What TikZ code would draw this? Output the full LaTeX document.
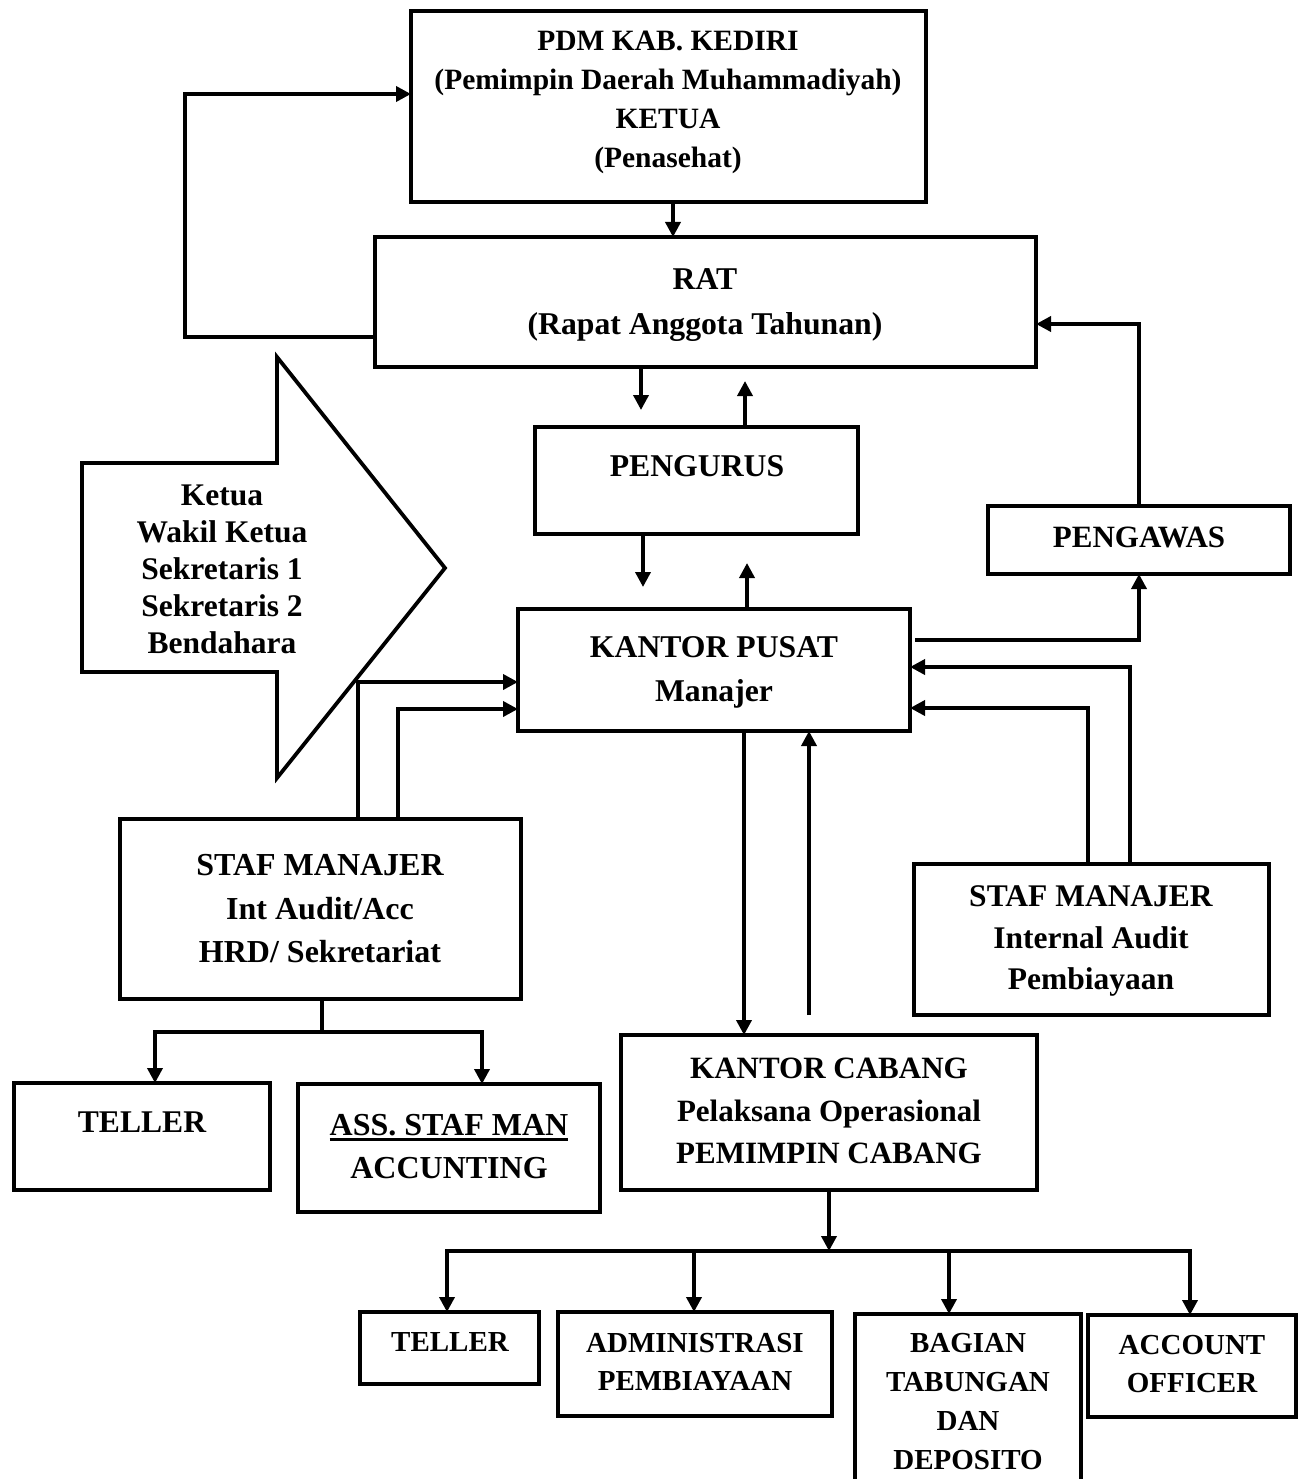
\documentclass[tikz,border=0pt]{standalone}
\usepackage{fontspec}
\setmainfont{Liberation Serif}
\usetikzlibrary{arrows.meta}
\newcommand\mybox[5]{\node[bx,minimum width=#4pt,minimum height=#5pt] (#1) at (#2,#3) {};}
\newcommand\myul[1]{\leavevmode\vtop{\hbox{#1}\kern1.5pt\hrule height 3.5pt}}
\begin{document}
\begin{tikzpicture}[x=1pt,y=-1pt,
  bx/.style={draw,line width=3.8pt,rectangle,anchor=north west,inner sep=0pt,outer sep=0pt},
  tx/.style={align=center,inner sep=0pt,anchor=center},
  ar/.style={line width=3.6pt,-{Triangle[length=15pt,width=15pt]}},
  ln/.style={line width=3.6pt}]
\fill[white] (0,0) rectangle (1299,1479);
\useasboundingbox (0,0) rectangle (1299,1479);

% boxes
\mybox{pdm}{411}{11}{515}{191}
\mybox{rat}{375}{237}{661}{130}
\mybox{peng}{535}{427}{323}{107}
\mybox{kp}{518}{609}{392}{122}
\mybox{pgw}{988}{506}{302}{68}
\mybox{sml}{120}{819}{401}{180}
\mybox{smr}{914}{864}{355}{151}
\mybox{tel1}{14}{1083}{256}{107}
\mybox{ass}{298}{1084}{302}{128}
\mybox{kc}{621}{1035}{416}{155}
\mybox{tel2}{360}{1312}{179}{72}
\mybox{adm}{558}{1312}{274}{104}
\mybox{bag}{855}{1314}{226}{180}
\mybox{acc}{1088}{1315}{208}{102}

% block arrow
\draw[line width=3.8pt,line join=miter] (82,463) -- (277,463) -- (277,357) -- (445,568) -- (277,778) -- (277,672) -- (82,672) -- cycle;

% texts
\node[tx,font={\fontsize{29.5}{39}\selectfont\bfseries}] (tpdm) at (668,102) {PDM KAB. KEDIRI\\(Pemimpin Daerah Muhammadiyah)\\KETUA\\(Penasehat)};
\node[tx,font={\fontsize{31.7}{45}\selectfont\bfseries}] (trat) at (705,305) {RAT\\(Rapat Anggota Tahunan)};
\node[tx,font={\fontsize{31.7}{44}\selectfont\bfseries}] (tpeng) at (697,466) {PENGURUS};
\node[tx,font={\fontsize{31.7}{44}\selectfont\bfseries}] (tkp) at (714,672) {KANTOR PUSAT\\Manajer};
\node[tx,font={\fontsize{31}{44}\selectfont\bfseries}] (tpgw) at (1139,537) {PENGAWAS};
\node[tx,font={\fontsize{31.5}{37}\selectfont\bfseries}] (tket) at (222,569) {Ketua\\Wakil Ketua\\Sekretaris 1\\Sekretaris 2\\Bendahara};
\node[tx,font={\fontsize{32}{43.5}\selectfont\bfseries}] (tsml) at (320,909) {STAF MANAJER\\Int Audit/Acc\\HRD/ Sekretariat};
\node[tx,font={\fontsize{31.5}{41.5}\selectfont\bfseries}] (tsmr) at (1091,941) {STAF MANAJER\\Internal Audit\\Pembiayaan};
\node[tx,font={\fontsize{31.6}{43}\selectfont\bfseries}] (ttel1) at (142,1122) {TELLER};
\node[tx,font={\fontsize{32}{43}\selectfont\bfseries}] (tass) at (449,1147) {\myul{ASS. STAF MAN}\\ACCUNTING};
\node[tx,font={\fontsize{31}{42.5}\selectfont\bfseries}] (tkc) at (829,1111) {KANTOR CABANG\\Pelaksana Operasional\\PEMIMPIN CABANG};
\node[tx,font={\fontsize{29}{38}\selectfont\bfseries}] (ttel2) at (450,1342) {TELLER};
\node[tx,font={\fontsize{29}{38}\selectfont\bfseries}] (tadm) at (695,1362) {ADMINISTRASI\\PEMBIAYAAN};
\node[tx,font={\fontsize{29}{39}\selectfont\bfseries}] (tbag) at (968,1402) {BAGIAN\\TABUNGAN\\DAN\\DEPOSITO};
\node[tx,font={\fontsize{29}{38}\selectfont\bfseries}] (tacc) at (1192,1364) {ACCOUNT\\OFFICER};

% connectors
\draw[ar] (673,0 |- pdm.south) -- (673,0 |- rat.north);
\draw[ar] (rat.west |- 0,337) -- (185,337) -- (185,94) -- (pdm.west |- 0,94);
\draw[ar,shorten >=17pt] (641,0 |- rat.south) -- (641,0 |- peng.north);
\draw[ar,shorten >=14pt] (745,0 |- peng.north) -- (745,0 |- rat.south);
\draw[ar,shorten >=22pt] (643,0 |- peng.south) -- (643,0 |- kp.north);
\draw[ar,shorten >=29pt] (747,0 |- kp.north) -- (747,0 |- peng.south);
\draw[ar,shorten <=5pt] (kp.east |- 0,640) -- (1139,640) -- (1139,0 |- pgw.south);
\draw[ar] (1139,0 |- pgw.north) -- (1139,324) -- (rat.east |- 0,324);
\draw[ar] (1130,0 |- smr.north) -- (1130,667) -- (kp.east |- 0,667);
\draw[ar] (1088,0 |- smr.north) -- (1088,708) -- (kp.east |- 0,708);
\draw[ar] (358,0 |- sml.north) -- (358,682) -- (kp.west |- 0,682);
\draw[ar] (398,0 |- sml.north) -- (398,709) -- (kp.west |- 0,709);
\draw[ar] (744,0 |- kp.south) -- (744,0 |- kc.north);
\draw[ar,shorten <=20pt] (809,0 |- kc.north) -- (809,0 |- kp.south);

\coordinate (j1) at (322,1032);
\draw[ln] (322,0 |- sml.south) -- (j1);
\draw[ar] (j1) -| (155,0 |- tel1.north);
\draw[ar] (j1) -| (482,0 |- ass.north);

\coordinate (j2) at (829,1251);
\draw[ar] (829,0 |- kc.south) -- (j2);
\draw[ar] (j2) -| (447,0 |- tel2.north);
\draw[ar] (j2) -| (694,0 |- adm.north);
\draw[ar] (j2) -| (949,0 |- bag.north);
\draw[ar] (j2) -| (1190,0 |- acc.north);
\end{tikzpicture}
\end{document}
